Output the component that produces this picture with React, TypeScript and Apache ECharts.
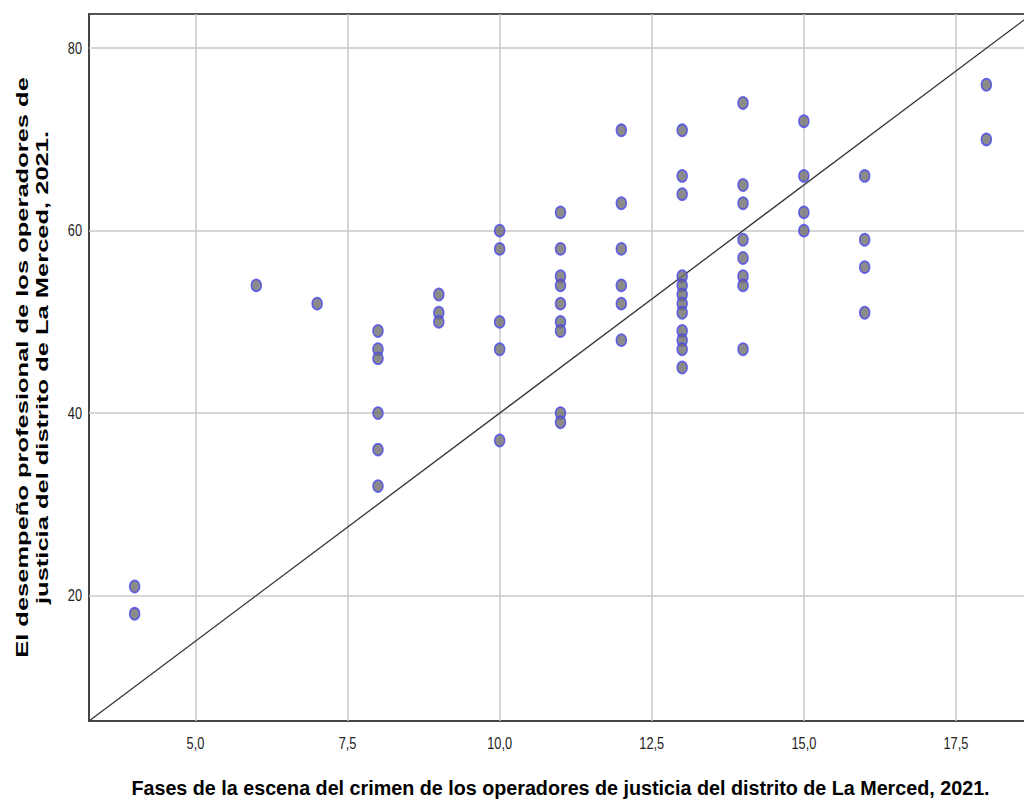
import React, { useEffect, useRef } from "react";
import * as echarts from "echarts";

const xTicks = [5, 7.5, 10, 12.5, 15, 17.5];
const yTicks = [20, 40, 60, 80];
const xRange = [3.25, 18.75];
const yRange = [6.25, 83.75];

const xTitle = "Fases de la escena del crimen de los operadores de justicia del distrito de La Merced, 2021.";
const yTitle = "El desempeño profesional de los operadores de\njusticia del distrito de La Merced, 2021.";

const fases = [
  4, 4,
  6,
  7,
  8, 8, 8, 8, 8, 8,
  9, 9, 9,
  10, 10, 10, 10, 10,
  11, 11, 11, 11, 11, 11, 11, 11, 11,
  12, 12, 12, 12, 12, 12,
  13, 13, 13, 13, 13, 13, 13, 13, 13, 13, 13, 13,
  14, 14, 14, 14, 14, 14, 14, 14,
  15, 15, 15, 15,
  16, 16, 16, 16,
  18, 18,
];
const desempeno = [
  21, 18,
  54,
  52,
  49, 47, 46, 40, 36, 32,
  53, 51, 50,
  60, 58, 50, 47, 37,
  62, 58, 55, 54, 52, 50, 49, 40, 39,
  71, 63, 58, 54, 52, 48,
  71, 66, 64, 55, 54, 53, 52, 51, 49, 48, 47, 45,
  74, 65, 63, 59, 57, 55, 54, 47,
  72, 66, 62, 60,
  66, 59, 56, 51,
  76, 70,
];

const fmt = (v: number) => v.toFixed(1).replace(".", ",");
const FONT = "Liberation Sans, Arial, sans-serif";

export default function App() {
  const ref = useRef<HTMLDivElement>(null);
  useEffect(() => {
    document.body.style.margin = "0";
    const chart = echarts.init(ref.current!, null, { renderer: "svg" });
    const points = fases.map((x, i) => [x, desempeno[i]]);
    chart.setOption({
      animation: false,
      backgroundColor: "#ffffff",
      grid: {
        left: 89,
        top: 14,
        width: 943,
        height: 707,
        show: true,
        borderColor: "#555555",
        borderWidth: 2,
        backgroundColor: "transparent",
        containLabel: false,
        outerBoundsMode: "none",
      },
      xAxis: {
        type: "value",
        min: xRange[0],
        max: xRange[1],
        axisLine: { show: true, lineStyle: { color: "#444444", width: 2 } },
        axisTick: { show: false },
        splitLine: { show: false },
        axisLabel: { show: false },
      },
      yAxis: {
        type: "value",
        min: yRange[0],
        max: yRange[1],
        axisLine: { show: true, lineStyle: { color: "#444444", width: 2 } },
        axisTick: { show: false },
        splitLine: { show: false },
        axisLabel: { show: false },
      },
      series: [
        {
          type: "line",
          data: [
            [xRange[0], yRange[0]],
            [xRange[1], yRange[1]],
          ],
          symbol: "none",
          silent: true,
          z: 2,
          lineStyle: { color: "#333333", width: 1.3 },
          markLine: {
            silent: true,
            symbol: "none",
            label: { show: false },
            lineStyle: { color: "#c8c8c8", type: "solid", width: 1.5 },
            data: [
              ...xTicks.map((v) => ({ xAxis: v })),
              ...yTicks.map((v) => ({ yAxis: v })),
            ],
            z: 1,
          },
        },
        {
          type: "scatter",
          data: points,
          symbol: "circle",
          symbolSize: [10, 12],
          z: 3,
          itemStyle: {
            color: "#6e6e6e",
            borderColor: "#4646f0",
            borderWidth: 1.6,
          },
        },
      ],
    });

    const gridRect = {
      left: 89,
      top: 14,
      bottom: 721,
      right: 1032,
    };
    const xLabels = xTicks.map((v) => {
      const px = chart.convertToPixel({ xAxisIndex: 0 }, v) as number;
      return {
        type: "text",
        x: px,
        y: gridRect.bottom + 22,
        scaleX: 0.8,
        style: {
          text: fmt(v),
          fontFamily: FONT,
          fontSize: 16,
          fill: "#222222",
          align: "center",
          verticalAlign: "middle",
        },
        silent: true,
      };
    });
    const yLabels = yTicks.map((v) => {
      const py = chart.convertToPixel({ yAxisIndex: 0 }, v) as number;
      return {
        type: "text",
        x: gridRect.left - 7,
        y: py,
        scaleX: 0.8,
        style: {
          text: String(v),
          fontFamily: FONT,
          fontSize: 16,
          fill: "#222222",
          align: "right",
          verticalAlign: "middle",
        },
        silent: true,
      };
    });
    chart.setOption({
      graphic: [
        ...xLabels,
        ...yLabels,
        {
          type: "text",
          x: (gridRect.left + gridRect.right) / 2,
          y: 788,
          scaleX: 0.94,
          style: {
            text: xTitle,
            fontFamily: FONT,
            fontWeight: "bold",
            fontSize: 21,
            fill: "#000000",
            align: "center",
            verticalAlign: "middle",
          },
          silent: true,
        },
        {
          type: "text",
          x: 32,
          y: (gridRect.top + gridRect.bottom) / 2,
          rotation: Math.PI / 2,
          scaleX: 1.5,
          style: {
            text: yTitle,
            fontFamily: FONT,
            fontWeight: "bold",
            fontSize: 17,
            lineHeight: 20,
            fill: "#000000",
            align: "center",
            verticalAlign: "middle",
          },
          silent: true,
        },
      ],
    });
    return () => chart.dispose();
  }, []);
  return <div ref={ref} style={{ width: 1024, height: 803 }} />;
}
